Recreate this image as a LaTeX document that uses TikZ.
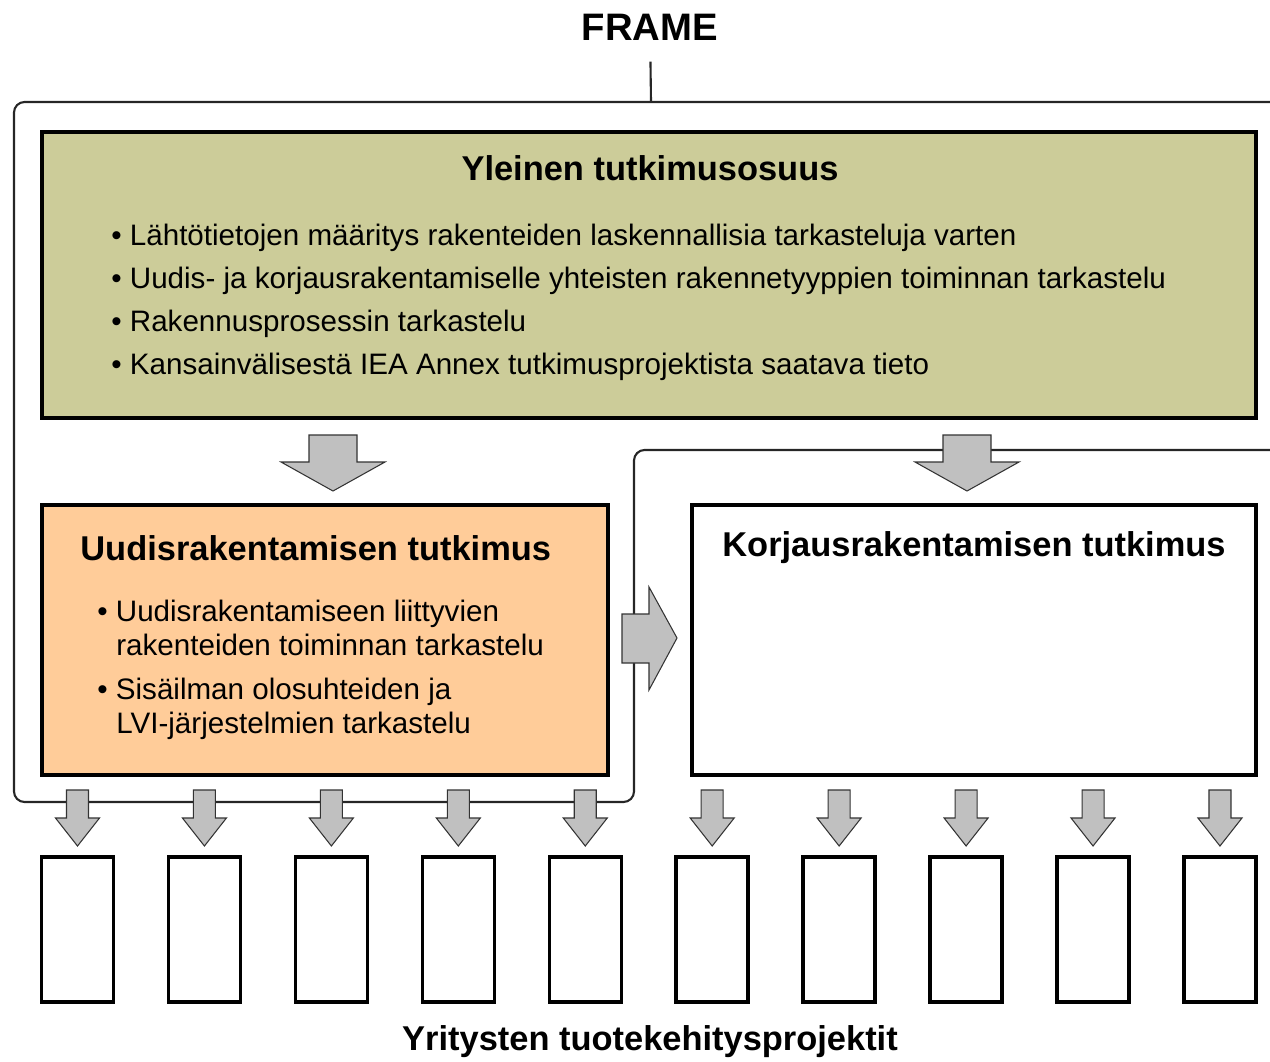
\documentclass[tikz,border=0pt]{standalone}
\usepackage{fontspec}
\setmainfont{Liberation Sans}
\usetikzlibrary{positioning}
\definecolor{yleinenvari}{RGB}{204,204,153}
\definecolor{uudisvari}{RGB}{255,204,153}
\definecolor{nuolivari}{RGB}{192,192,192}
\tikzset{
  laatikko/.style={draw=black, line width=2pt, inner sep=0pt},
  kehys/.style={draw=black!85, line width=1.2pt, rounded corners=6pt},
  nuoli/.style={fill=nuolivari, draw=black!80, line width=0.6pt},
  teksti/.style={font=\fontsize{16.84}{20}\selectfont, inner sep=0pt, anchor=base west},
  otsikko/.style={font=\bfseries\fontsize{19.6}{23}\selectfont, inner sep=0pt},
}

\begin{document}
\begin{tikzpicture}[x=0.02cm, y=-0.02cm]
    \useasboundingbox (0, 0) rectangle (1270, 1061);

    % frame
    \node[font=\bfseries\fontsize{21.8}{26}\selectfont, inner sep=0pt] (frame) at (650, 27) {FRAME};
    \coordinate (kehysyla) at (651, 102);
    \draw[kehys, rounded corners=0pt, shorten <=0.42cm] (frame) -- (kehysyla);
    \draw[kehys] (1300, 102) -- (14, 102) -- (14, 802) -- (634, 802) -- (634, 450) -- (1300, 450);

    % yleinen
    \node[laatikko, fill=yleinenvari, minimum width=24.28cm, minimum height=5.72cm] (yleinen) at (649, 275) {};
    \node[otsikko] (yotsikko) at (650, 168) {Yleinen tutkimusosuus};
    \node[teksti] (y1) at (111, 245) {\textbullet\ Lähtötietojen määritys rakenteiden laskennallisia tarkasteluja varten};
    \node[teksti] (y2) at (111, 288) {\textbullet\ Uudis- ja korjausrakentamiselle yhteisten rakennetyyppien toiminnan tarkastelu};
    \node[teksti] (y3) at (111, 331) {\textbullet\ Rakennusprosessin tarkastelu};
    \node[teksti] (y4) at (111, 374) {\textbullet\ Kansainvälisestä IEA Annex tutkimusprojektista saatava tieto};

    % uudis
    \node[laatikko, fill=uudisvari, minimum width=11.32cm, minimum height=5.4cm] (uudis) at (325, 640) {};
    \node[otsikko, anchor=west] (uotsikko) at (80, 548) {Uudisrakentamisen tutkimus};
    \node[teksti] (u1) at (97, 621) {\textbullet\ Uudisrakentamiseen liittyvien};
    \node[teksti] (u1b) at (116, 655) {rakenteiden toiminnan tarkastelu};
    \node[teksti] (u2) at (97, 699) {\textbullet\ Sisäilman olosuhteiden ja};
    \node[teksti] (u2b) at (116, 733) {LVI-järjestelmien tarkastelu};

    % korjaus
    \node[laatikko, fill=white, minimum width=11.28cm, minimum height=5.4cm] (korjaus) at (974, 640) {};
    \node[otsikko] (kotsikko) at (974, 548) {Korjausrakentamisen tutkimus};

    % isot nuolet
    \draw[nuoli] (309, 435) -- (357, 435) -- (357, 462) -- (385, 462) -- (333, 491)
        -- (281, 462) -- (309, 462) -- cycle;
    \draw[nuoli] (943, 435) -- (991, 435) -- (991, 462) -- (1019, 462) -- (967, 491)
        -- (915, 462) -- (943, 462) -- cycle;
    \draw[nuoli] (622, 614) -- (649, 614) -- (649, 587) -- (677, 638) -- (649, 690)
        -- (649, 663) -- (622, 663) -- cycle;

    % projektit
    \foreach \i in {0,...,9} {
      \pgfmathsetmacro\cx{77.5+126.94*\i}
      \draw[nuoli] (\cx-11, 790) -- (\cx+11, 790) -- (\cx+11, 818) -- (\cx+22, 818)
          -- (\cx, 846) -- (\cx-22, 818) -- (\cx-11, 818) -- cycle;
      \node[laatikko, minimum width=1.44cm, minimum height=2.9cm] (p\i) at (\cx, 929.5) {};
    }
    \node[otsikko, anchor=base] (projektit) at (650, 1050) {Yritysten tuotekehitysprojektit};
\end{tikzpicture}
\end{document}
